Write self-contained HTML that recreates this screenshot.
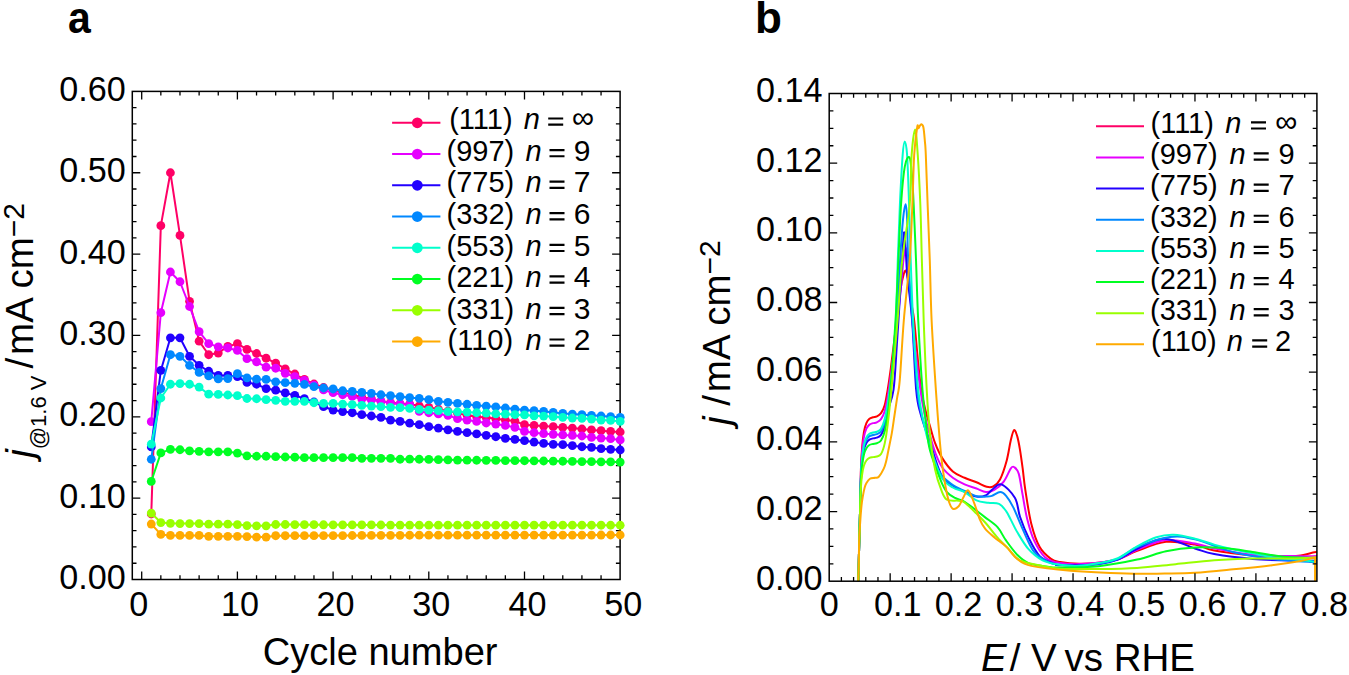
<!DOCTYPE html><html><head><meta charset="utf-8"><style>html,body{margin:0;padding:0;background:#fff;width:1349px;height:675px;overflow:hidden;}svg{display:block}text{font-family:"Liberation Sans",sans-serif;}</style></head><body>
<svg width="1349" height="675" viewBox="0 0 1349 675">
<rect width="1349" height="675" fill="#fff"/>
<path d="M141.70,579.50v-8.00M141.70,91.40v8.00M160.84,579.50v-4.20M160.84,91.40v4.20M179.98,579.50v-4.20M179.98,91.40v4.20M199.12,579.50v-4.20M199.12,91.40v4.20M218.26,579.50v-4.20M218.26,91.40v4.20M237.40,579.50v-8.00M237.40,91.40v8.00M256.54,579.50v-4.20M256.54,91.40v4.20M275.68,579.50v-4.20M275.68,91.40v4.20M294.82,579.50v-4.20M294.82,91.40v4.20M313.96,579.50v-4.20M313.96,91.40v4.20M333.10,579.50v-8.00M333.10,91.40v8.00M352.24,579.50v-4.20M352.24,91.40v4.20M371.38,579.50v-4.20M371.38,91.40v4.20M390.52,579.50v-4.20M390.52,91.40v4.20M409.66,579.50v-4.20M409.66,91.40v4.20M428.80,579.50v-8.00M428.80,91.40v8.00M447.94,579.50v-4.20M447.94,91.40v4.20M467.08,579.50v-4.20M467.08,91.40v4.20M486.22,579.50v-4.20M486.22,91.40v4.20M505.36,579.50v-4.20M505.36,91.40v4.20M524.50,579.50v-8.00M524.50,91.40v8.00M543.64,579.50v-4.20M543.64,91.40v4.20M562.78,579.50v-4.20M562.78,91.40v4.20M581.92,579.50v-4.20M581.92,91.40v4.20M601.06,579.50v-4.20M601.06,91.40v4.20M132.30,563.23h4.20M620.10,563.23h-4.20M132.30,546.96h4.20M620.10,546.96h-4.20M132.30,530.69h4.20M620.10,530.69h-4.20M132.30,514.42h4.20M620.10,514.42h-4.20M132.30,498.15h8.00M620.10,498.15h-8.00M132.30,481.88h4.20M620.10,481.88h-4.20M132.30,465.61h4.20M620.10,465.61h-4.20M132.30,449.34h4.20M620.10,449.34h-4.20M132.30,433.07h4.20M620.10,433.07h-4.20M132.30,416.80h8.00M620.10,416.80h-8.00M132.30,400.53h4.20M620.10,400.53h-4.20M132.30,384.26h4.20M620.10,384.26h-4.20M132.30,367.99h4.20M620.10,367.99h-4.20M132.30,351.72h4.20M620.10,351.72h-4.20M132.30,335.45h8.00M620.10,335.45h-8.00M132.30,319.18h4.20M620.10,319.18h-4.20M132.30,302.91h4.20M620.10,302.91h-4.20M132.30,286.64h4.20M620.10,286.64h-4.20M132.30,270.37h4.20M620.10,270.37h-4.20M132.30,254.10h8.00M620.10,254.10h-8.00M132.30,237.83h4.20M620.10,237.83h-4.20M132.30,221.56h4.20M620.10,221.56h-4.20M132.30,205.29h4.20M620.10,205.29h-4.20M132.30,189.02h4.20M620.10,189.02h-4.20M132.30,172.75h8.00M620.10,172.75h-8.00M132.30,156.48h4.20M620.10,156.48h-4.20M132.30,140.21h4.20M620.10,140.21h-4.20M132.30,123.94h4.20M620.10,123.94h-4.20M132.30,107.67h4.20M620.10,107.67h-4.20" stroke="#000" stroke-width="1.30" fill="none"/>
<rect x="132.30" y="91.40" width="487.80" height="488.10" fill="none" stroke="#000" stroke-width="1.50"/>
<text x="138.80" y="615.50" font-size="34.2" text-anchor="middle">0</text>
<text x="239.90" y="615.50" font-size="34.2" text-anchor="middle">10</text>
<text x="335.40" y="615.50" font-size="34.2" text-anchor="middle">20</text>
<text x="431.30" y="615.50" font-size="34.2" text-anchor="middle">30</text>
<text x="527.50" y="615.50" font-size="34.2" text-anchor="middle">40</text>
<text x="623.20" y="615.50" font-size="34.2" text-anchor="middle">50</text>
<text x="125.80" y="588.90" font-size="34.2" text-anchor="end">0.00</text>
<text x="125.80" y="507.55" font-size="34.2" text-anchor="end">0.10</text>
<text x="125.80" y="426.20" font-size="34.2" text-anchor="end">0.20</text>
<text x="125.80" y="344.85" font-size="34.2" text-anchor="end">0.30</text>
<text x="125.80" y="263.50" font-size="34.2" text-anchor="end">0.40</text>
<text x="125.80" y="182.15" font-size="34.2" text-anchor="end">0.50</text>
<text x="125.80" y="100.80" font-size="34.2" text-anchor="end">0.60</text>
<text x="380.1" y="664.8" font-size="38.1" text-anchor="middle">Cycle number</text>
<text transform="translate(33,457.8) rotate(-90)" font-size="38.5"><tspan font-style="italic">j</tspan><tspan font-size="22" dy="12.5">@1.6 V</tspan><tspan dy="-12.5" dx="7">/</tspan><tspan dx="2.9">mA cm</tspan><tspan font-size="30" dy="-9.2">−2</tspan></text>
<text transform="translate(68,33) scale(0.91,1)" font-size="45" font-weight="bold">a</text>
<polyline points="151.27,514.01 160.84,225.63 170.41,172.75 179.98,235.39 189.55,301.28 199.12,341.14 208.69,354.73 218.26,353.02 227.83,346.43 237.40,343.59 246.97,349.28 256.54,353.51 266.11,358.23 275.68,363.11 285.25,368.80 294.82,374.01 304.39,379.38 313.96,384.02 323.53,387.51 333.10,389.95 342.67,392.39 352.24,394.84 361.81,397.28 371.38,398.90 380.95,401.34 390.52,402.56 400.09,403.78 409.66,404.19 419.23,405.82 428.80,407.44 438.37,409.07 447.94,411.11 457.51,413.14 467.08,415.17 476.65,416.72 486.22,417.61 495.79,418.67 505.36,420.05 514.93,421.11 524.50,424.69 534.07,425.42 543.64,426.07 553.21,426.72 562.78,427.38 572.35,428.03 581.92,429.00 591.49,429.98 601.06,430.71 610.63,431.44 620.20,432.01" fill="none" stroke="#ff0066" stroke-width="2" stroke-linejoin="round"/>
<g fill="#ff0066"><circle cx="151.27" cy="514.01" r="4.4"/><circle cx="160.84" cy="225.63" r="4.4"/><circle cx="170.41" cy="172.75" r="4.4"/><circle cx="179.98" cy="235.39" r="4.4"/><circle cx="189.55" cy="301.28" r="4.4"/><circle cx="199.12" cy="341.14" r="4.4"/><circle cx="208.69" cy="354.73" r="4.4"/><circle cx="218.26" cy="353.02" r="4.4"/><circle cx="227.83" cy="346.43" r="4.4"/><circle cx="237.40" cy="343.59" r="4.4"/><circle cx="246.97" cy="349.28" r="4.4"/><circle cx="256.54" cy="353.51" r="4.4"/><circle cx="266.11" cy="358.23" r="4.4"/><circle cx="275.68" cy="363.11" r="4.4"/><circle cx="285.25" cy="368.80" r="4.4"/><circle cx="294.82" cy="374.01" r="4.4"/><circle cx="304.39" cy="379.38" r="4.4"/><circle cx="313.96" cy="384.02" r="4.4"/><circle cx="323.53" cy="387.51" r="4.4"/><circle cx="333.10" cy="389.95" r="4.4"/><circle cx="342.67" cy="392.39" r="4.4"/><circle cx="352.24" cy="394.84" r="4.4"/><circle cx="361.81" cy="397.28" r="4.4"/><circle cx="371.38" cy="398.90" r="4.4"/><circle cx="380.95" cy="401.34" r="4.4"/><circle cx="390.52" cy="402.56" r="4.4"/><circle cx="400.09" cy="403.78" r="4.4"/><circle cx="409.66" cy="404.19" r="4.4"/><circle cx="419.23" cy="405.82" r="4.4"/><circle cx="428.80" cy="407.44" r="4.4"/><circle cx="438.37" cy="409.07" r="4.4"/><circle cx="447.94" cy="411.11" r="4.4"/><circle cx="457.51" cy="413.14" r="4.4"/><circle cx="467.08" cy="415.17" r="4.4"/><circle cx="476.65" cy="416.72" r="4.4"/><circle cx="486.22" cy="417.61" r="4.4"/><circle cx="495.79" cy="418.67" r="4.4"/><circle cx="505.36" cy="420.05" r="4.4"/><circle cx="514.93" cy="421.11" r="4.4"/><circle cx="524.50" cy="424.69" r="4.4"/><circle cx="534.07" cy="425.42" r="4.4"/><circle cx="543.64" cy="426.07" r="4.4"/><circle cx="553.21" cy="426.72" r="4.4"/><circle cx="562.78" cy="427.38" r="4.4"/><circle cx="572.35" cy="428.03" r="4.4"/><circle cx="581.92" cy="429.00" r="4.4"/><circle cx="591.49" cy="429.98" r="4.4"/><circle cx="601.06" cy="430.71" r="4.4"/><circle cx="610.63" cy="431.44" r="4.4"/><circle cx="620.20" cy="432.01" r="4.4"/></g>
<polyline points="151.27,421.68 160.84,312.67 170.41,272.00 179.98,281.76 189.55,306.49 199.12,331.71 208.69,343.59 218.26,346.84 227.83,347.98 237.40,350.42 246.97,358.72 256.54,361.81 266.11,367.18 275.68,368.23 285.25,373.36 294.82,376.69 304.39,380.44 313.96,385.07 323.53,389.95 333.10,392.72 342.67,394.75 352.24,396.46 361.81,399.07 371.38,399.96 380.95,401.34 390.52,403.13 400.09,403.95 409.66,404.68 419.23,411.43 428.80,412.73 438.37,413.95 447.94,415.34 457.51,418.67 467.08,420.05 476.65,421.44 486.22,422.98 495.79,424.04 505.36,425.42 514.93,427.38 524.50,431.44 534.07,432.66 543.64,433.64 553.21,434.29 562.78,434.94 572.35,435.43 581.92,436.00 591.49,437.38 601.06,438.03 610.63,438.68 620.20,439.98" fill="none" stroke="#e600ff" stroke-width="2" stroke-linejoin="round"/>
<g fill="#e600ff"><circle cx="151.27" cy="421.68" r="4.4"/><circle cx="160.84" cy="312.67" r="4.4"/><circle cx="170.41" cy="272.00" r="4.4"/><circle cx="179.98" cy="281.76" r="4.4"/><circle cx="189.55" cy="306.49" r="4.4"/><circle cx="199.12" cy="331.71" r="4.4"/><circle cx="208.69" cy="343.59" r="4.4"/><circle cx="218.26" cy="346.84" r="4.4"/><circle cx="227.83" cy="347.98" r="4.4"/><circle cx="237.40" cy="350.42" r="4.4"/><circle cx="246.97" cy="358.72" r="4.4"/><circle cx="256.54" cy="361.81" r="4.4"/><circle cx="266.11" cy="367.18" r="4.4"/><circle cx="275.68" cy="368.23" r="4.4"/><circle cx="285.25" cy="373.36" r="4.4"/><circle cx="294.82" cy="376.69" r="4.4"/><circle cx="304.39" cy="380.44" r="4.4"/><circle cx="313.96" cy="385.07" r="4.4"/><circle cx="323.53" cy="389.95" r="4.4"/><circle cx="333.10" cy="392.72" r="4.4"/><circle cx="342.67" cy="394.75" r="4.4"/><circle cx="352.24" cy="396.46" r="4.4"/><circle cx="361.81" cy="399.07" r="4.4"/><circle cx="371.38" cy="399.96" r="4.4"/><circle cx="380.95" cy="401.34" r="4.4"/><circle cx="390.52" cy="403.13" r="4.4"/><circle cx="400.09" cy="403.95" r="4.4"/><circle cx="409.66" cy="404.68" r="4.4"/><circle cx="419.23" cy="411.43" r="4.4"/><circle cx="428.80" cy="412.73" r="4.4"/><circle cx="438.37" cy="413.95" r="4.4"/><circle cx="447.94" cy="415.34" r="4.4"/><circle cx="457.51" cy="418.67" r="4.4"/><circle cx="467.08" cy="420.05" r="4.4"/><circle cx="476.65" cy="421.44" r="4.4"/><circle cx="486.22" cy="422.98" r="4.4"/><circle cx="495.79" cy="424.04" r="4.4"/><circle cx="505.36" cy="425.42" r="4.4"/><circle cx="514.93" cy="427.38" r="4.4"/><circle cx="524.50" cy="431.44" r="4.4"/><circle cx="534.07" cy="432.66" r="4.4"/><circle cx="543.64" cy="433.64" r="4.4"/><circle cx="553.21" cy="434.29" r="4.4"/><circle cx="562.78" cy="434.94" r="4.4"/><circle cx="572.35" cy="435.43" r="4.4"/><circle cx="581.92" cy="436.00" r="4.4"/><circle cx="591.49" cy="437.38" r="4.4"/><circle cx="601.06" cy="438.03" r="4.4"/><circle cx="610.63" cy="438.68" r="4.4"/><circle cx="620.20" cy="439.98" r="4.4"/></g>
<polyline points="151.27,446.90 160.84,370.43 170.41,337.81 179.98,337.81 189.55,356.28 199.12,365.31 208.69,371.24 218.26,375.47 227.83,375.47 237.40,376.53 246.97,382.39 256.54,384.26 266.11,388.57 275.68,390.20 285.25,392.96 294.82,395.40 304.39,398.66 313.96,401.99 323.53,406.71 333.10,410.05 342.67,411.59 352.24,412.73 361.81,414.68 371.38,415.99 380.95,417.37 390.52,420.05 400.09,421.36 409.66,423.15 419.23,424.69 428.80,426.72 438.37,428.03 447.94,429.82 457.51,431.44 467.08,432.66 476.65,433.96 486.22,435.35 495.79,436.73 505.36,438.44 514.93,439.42 524.50,440.72 534.07,442.02 543.64,443.40 553.21,444.30 562.78,444.70 572.35,445.68 581.92,446.74 591.49,447.39 601.06,448.69 610.63,449.34 620.20,449.99" fill="none" stroke="#2200ff" stroke-width="2" stroke-linejoin="round"/>
<g fill="#2200ff"><circle cx="151.27" cy="446.90" r="4.4"/><circle cx="160.84" cy="370.43" r="4.4"/><circle cx="170.41" cy="337.81" r="4.4"/><circle cx="179.98" cy="337.81" r="4.4"/><circle cx="189.55" cy="356.28" r="4.4"/><circle cx="199.12" cy="365.31" r="4.4"/><circle cx="208.69" cy="371.24" r="4.4"/><circle cx="218.26" cy="375.47" r="4.4"/><circle cx="227.83" cy="375.47" r="4.4"/><circle cx="237.40" cy="376.53" r="4.4"/><circle cx="246.97" cy="382.39" r="4.4"/><circle cx="256.54" cy="384.26" r="4.4"/><circle cx="266.11" cy="388.57" r="4.4"/><circle cx="275.68" cy="390.20" r="4.4"/><circle cx="285.25" cy="392.96" r="4.4"/><circle cx="294.82" cy="395.40" r="4.4"/><circle cx="304.39" cy="398.66" r="4.4"/><circle cx="313.96" cy="401.99" r="4.4"/><circle cx="323.53" cy="406.71" r="4.4"/><circle cx="333.10" cy="410.05" r="4.4"/><circle cx="342.67" cy="411.59" r="4.4"/><circle cx="352.24" cy="412.73" r="4.4"/><circle cx="361.81" cy="414.68" r="4.4"/><circle cx="371.38" cy="415.99" r="4.4"/><circle cx="380.95" cy="417.37" r="4.4"/><circle cx="390.52" cy="420.05" r="4.4"/><circle cx="400.09" cy="421.36" r="4.4"/><circle cx="409.66" cy="423.15" r="4.4"/><circle cx="419.23" cy="424.69" r="4.4"/><circle cx="428.80" cy="426.72" r="4.4"/><circle cx="438.37" cy="428.03" r="4.4"/><circle cx="447.94" cy="429.82" r="4.4"/><circle cx="457.51" cy="431.44" r="4.4"/><circle cx="467.08" cy="432.66" r="4.4"/><circle cx="476.65" cy="433.96" r="4.4"/><circle cx="486.22" cy="435.35" r="4.4"/><circle cx="495.79" cy="436.73" r="4.4"/><circle cx="505.36" cy="438.44" r="4.4"/><circle cx="514.93" cy="439.42" r="4.4"/><circle cx="524.50" cy="440.72" r="4.4"/><circle cx="534.07" cy="442.02" r="4.4"/><circle cx="543.64" cy="443.40" r="4.4"/><circle cx="553.21" cy="444.30" r="4.4"/><circle cx="562.78" cy="444.70" r="4.4"/><circle cx="572.35" cy="445.68" r="4.4"/><circle cx="581.92" cy="446.74" r="4.4"/><circle cx="591.49" cy="447.39" r="4.4"/><circle cx="601.06" cy="448.69" r="4.4"/><circle cx="610.63" cy="449.34" r="4.4"/><circle cx="620.20" cy="449.99" r="4.4"/></g>
<polyline points="151.27,459.26 160.84,388.57 170.41,354.73 179.98,356.28 189.55,365.31 199.12,372.38 208.69,375.96 218.26,378.97 227.83,378.57 237.40,373.60 246.97,377.91 256.54,379.13 266.11,379.38 275.68,381.82 285.25,382.71 294.82,383.37 304.39,384.42 313.96,386.70 323.53,388.00 333.10,388.98 342.67,390.77 352.24,391.42 361.81,392.39 371.38,393.37 380.95,394.75 390.52,395.65 400.09,396.71 409.66,397.60 419.23,398.41 428.80,399.64 438.37,401.34 447.94,402.32 457.51,403.38 467.08,404.27 476.65,405.41 486.22,406.06 495.79,406.96 505.36,408.01 514.93,409.07 524.50,410.05 534.07,410.70 543.64,411.35 553.21,412.41 562.78,413.38 572.35,414.03 581.92,414.68 591.49,415.34 601.06,415.99 610.63,416.72 620.20,417.37" fill="none" stroke="#0088ff" stroke-width="2" stroke-linejoin="round"/>
<g fill="#0088ff"><circle cx="151.27" cy="459.26" r="4.4"/><circle cx="160.84" cy="388.57" r="4.4"/><circle cx="170.41" cy="354.73" r="4.4"/><circle cx="179.98" cy="356.28" r="4.4"/><circle cx="189.55" cy="365.31" r="4.4"/><circle cx="199.12" cy="372.38" r="4.4"/><circle cx="208.69" cy="375.96" r="4.4"/><circle cx="218.26" cy="378.97" r="4.4"/><circle cx="227.83" cy="378.57" r="4.4"/><circle cx="237.40" cy="373.60" r="4.4"/><circle cx="246.97" cy="377.91" r="4.4"/><circle cx="256.54" cy="379.13" r="4.4"/><circle cx="266.11" cy="379.38" r="4.4"/><circle cx="275.68" cy="381.82" r="4.4"/><circle cx="285.25" cy="382.71" r="4.4"/><circle cx="294.82" cy="383.37" r="4.4"/><circle cx="304.39" cy="384.42" r="4.4"/><circle cx="313.96" cy="386.70" r="4.4"/><circle cx="323.53" cy="388.00" r="4.4"/><circle cx="333.10" cy="388.98" r="4.4"/><circle cx="342.67" cy="390.77" r="4.4"/><circle cx="352.24" cy="391.42" r="4.4"/><circle cx="361.81" cy="392.39" r="4.4"/><circle cx="371.38" cy="393.37" r="4.4"/><circle cx="380.95" cy="394.75" r="4.4"/><circle cx="390.52" cy="395.65" r="4.4"/><circle cx="400.09" cy="396.71" r="4.4"/><circle cx="409.66" cy="397.60" r="4.4"/><circle cx="419.23" cy="398.41" r="4.4"/><circle cx="428.80" cy="399.64" r="4.4"/><circle cx="438.37" cy="401.34" r="4.4"/><circle cx="447.94" cy="402.32" r="4.4"/><circle cx="457.51" cy="403.38" r="4.4"/><circle cx="467.08" cy="404.27" r="4.4"/><circle cx="476.65" cy="405.41" r="4.4"/><circle cx="486.22" cy="406.06" r="4.4"/><circle cx="495.79" cy="406.96" r="4.4"/><circle cx="505.36" cy="408.01" r="4.4"/><circle cx="514.93" cy="409.07" r="4.4"/><circle cx="524.50" cy="410.05" r="4.4"/><circle cx="534.07" cy="410.70" r="4.4"/><circle cx="543.64" cy="411.35" r="4.4"/><circle cx="553.21" cy="412.41" r="4.4"/><circle cx="562.78" cy="413.38" r="4.4"/><circle cx="572.35" cy="414.03" r="4.4"/><circle cx="581.92" cy="414.68" r="4.4"/><circle cx="591.49" cy="415.34" r="4.4"/><circle cx="601.06" cy="415.99" r="4.4"/><circle cx="610.63" cy="416.72" r="4.4"/><circle cx="620.20" cy="417.37" r="4.4"/></g>
<polyline points="151.27,444.21 160.84,398.01 170.41,384.26 179.98,383.61 189.55,384.26 199.12,387.11 208.69,394.18 218.26,394.43 227.83,395.00 237.40,395.65 246.97,398.50 256.54,398.74 266.11,399.72 275.68,400.29 285.25,401.34 294.82,401.34 304.39,401.34 313.96,402.73 323.53,403.38 333.10,403.38 342.67,404.03 352.24,404.68 361.81,405.41 371.38,406.06 380.95,406.71 390.52,407.36 400.09,407.69 409.66,408.42 419.23,409.40 428.80,410.05 438.37,410.70 447.94,411.59 457.51,411.84 467.08,412.08 476.65,412.73 486.22,413.06 495.79,413.79 505.36,414.03 514.93,414.68 524.50,414.93 534.07,415.82 543.64,416.07 553.21,416.72 562.78,417.37 572.35,418.02 581.92,418.35 591.49,419.08 601.06,420.05 610.63,420.38 620.20,421.44" fill="none" stroke="#00ffcc" stroke-width="2" stroke-linejoin="round"/>
<g fill="#00ffcc"><circle cx="151.27" cy="444.21" r="4.4"/><circle cx="160.84" cy="398.01" r="4.4"/><circle cx="170.41" cy="384.26" r="4.4"/><circle cx="179.98" cy="383.61" r="4.4"/><circle cx="189.55" cy="384.26" r="4.4"/><circle cx="199.12" cy="387.11" r="4.4"/><circle cx="208.69" cy="394.18" r="4.4"/><circle cx="218.26" cy="394.43" r="4.4"/><circle cx="227.83" cy="395.00" r="4.4"/><circle cx="237.40" cy="395.65" r="4.4"/><circle cx="246.97" cy="398.50" r="4.4"/><circle cx="256.54" cy="398.74" r="4.4"/><circle cx="266.11" cy="399.72" r="4.4"/><circle cx="275.68" cy="400.29" r="4.4"/><circle cx="285.25" cy="401.34" r="4.4"/><circle cx="294.82" cy="401.34" r="4.4"/><circle cx="304.39" cy="401.34" r="4.4"/><circle cx="313.96" cy="402.73" r="4.4"/><circle cx="323.53" cy="403.38" r="4.4"/><circle cx="333.10" cy="403.38" r="4.4"/><circle cx="342.67" cy="404.03" r="4.4"/><circle cx="352.24" cy="404.68" r="4.4"/><circle cx="361.81" cy="405.41" r="4.4"/><circle cx="371.38" cy="406.06" r="4.4"/><circle cx="380.95" cy="406.71" r="4.4"/><circle cx="390.52" cy="407.36" r="4.4"/><circle cx="400.09" cy="407.69" r="4.4"/><circle cx="409.66" cy="408.42" r="4.4"/><circle cx="419.23" cy="409.40" r="4.4"/><circle cx="428.80" cy="410.05" r="4.4"/><circle cx="438.37" cy="410.70" r="4.4"/><circle cx="447.94" cy="411.59" r="4.4"/><circle cx="457.51" cy="411.84" r="4.4"/><circle cx="467.08" cy="412.08" r="4.4"/><circle cx="476.65" cy="412.73" r="4.4"/><circle cx="486.22" cy="413.06" r="4.4"/><circle cx="495.79" cy="413.79" r="4.4"/><circle cx="505.36" cy="414.03" r="4.4"/><circle cx="514.93" cy="414.68" r="4.4"/><circle cx="524.50" cy="414.93" r="4.4"/><circle cx="534.07" cy="415.82" r="4.4"/><circle cx="543.64" cy="416.07" r="4.4"/><circle cx="553.21" cy="416.72" r="4.4"/><circle cx="562.78" cy="417.37" r="4.4"/><circle cx="572.35" cy="418.02" r="4.4"/><circle cx="581.92" cy="418.35" r="4.4"/><circle cx="591.49" cy="419.08" r="4.4"/><circle cx="601.06" cy="420.05" r="4.4"/><circle cx="610.63" cy="420.38" r="4.4"/><circle cx="620.20" cy="421.44" r="4.4"/></g>
<polyline points="151.27,481.47 160.84,452.92 170.41,449.34 179.98,449.75 189.55,450.97 199.12,451.37 208.69,451.86 218.26,451.86 227.83,451.86 237.40,453.08 246.97,455.85 256.54,456.25 266.11,456.25 275.68,456.66 285.25,456.99 294.82,457.23 304.39,457.72 313.96,457.72 323.53,457.72 333.10,457.56 342.67,457.72 352.24,457.72 361.81,458.29 371.38,458.29 380.95,458.29 390.52,458.29 400.09,459.26 409.66,459.10 419.23,459.26 428.80,459.43 438.37,459.64 447.94,459.86 457.51,460.08 467.08,460.17 476.65,460.26 486.22,460.36 495.79,460.45 505.36,460.54 514.93,460.64 524.50,460.73 534.07,460.86 543.64,460.99 553.21,461.12 562.78,461.25 572.35,461.38 581.92,461.53 591.49,461.67 601.06,461.82 610.63,461.97 620.20,462.11" fill="none" stroke="#00ff22" stroke-width="2" stroke-linejoin="round"/>
<g fill="#00ff22"><circle cx="151.27" cy="481.47" r="4.4"/><circle cx="160.84" cy="452.92" r="4.4"/><circle cx="170.41" cy="449.34" r="4.4"/><circle cx="179.98" cy="449.75" r="4.4"/><circle cx="189.55" cy="450.97" r="4.4"/><circle cx="199.12" cy="451.37" r="4.4"/><circle cx="208.69" cy="451.86" r="4.4"/><circle cx="218.26" cy="451.86" r="4.4"/><circle cx="227.83" cy="451.86" r="4.4"/><circle cx="237.40" cy="453.08" r="4.4"/><circle cx="246.97" cy="455.85" r="4.4"/><circle cx="256.54" cy="456.25" r="4.4"/><circle cx="266.11" cy="456.25" r="4.4"/><circle cx="275.68" cy="456.66" r="4.4"/><circle cx="285.25" cy="456.99" r="4.4"/><circle cx="294.82" cy="457.23" r="4.4"/><circle cx="304.39" cy="457.72" r="4.4"/><circle cx="313.96" cy="457.72" r="4.4"/><circle cx="323.53" cy="457.72" r="4.4"/><circle cx="333.10" cy="457.56" r="4.4"/><circle cx="342.67" cy="457.72" r="4.4"/><circle cx="352.24" cy="457.72" r="4.4"/><circle cx="361.81" cy="458.29" r="4.4"/><circle cx="371.38" cy="458.29" r="4.4"/><circle cx="380.95" cy="458.29" r="4.4"/><circle cx="390.52" cy="458.29" r="4.4"/><circle cx="400.09" cy="459.26" r="4.4"/><circle cx="409.66" cy="459.10" r="4.4"/><circle cx="419.23" cy="459.26" r="4.4"/><circle cx="428.80" cy="459.43" r="4.4"/><circle cx="438.37" cy="459.64" r="4.4"/><circle cx="447.94" cy="459.86" r="4.4"/><circle cx="457.51" cy="460.08" r="4.4"/><circle cx="467.08" cy="460.17" r="4.4"/><circle cx="476.65" cy="460.26" r="4.4"/><circle cx="486.22" cy="460.36" r="4.4"/><circle cx="495.79" cy="460.45" r="4.4"/><circle cx="505.36" cy="460.54" r="4.4"/><circle cx="514.93" cy="460.64" r="4.4"/><circle cx="524.50" cy="460.73" r="4.4"/><circle cx="534.07" cy="460.86" r="4.4"/><circle cx="543.64" cy="460.99" r="4.4"/><circle cx="553.21" cy="461.12" r="4.4"/><circle cx="562.78" cy="461.25" r="4.4"/><circle cx="572.35" cy="461.38" r="4.4"/><circle cx="581.92" cy="461.53" r="4.4"/><circle cx="591.49" cy="461.67" r="4.4"/><circle cx="601.06" cy="461.82" r="4.4"/><circle cx="610.63" cy="461.97" r="4.4"/><circle cx="620.20" cy="462.11" r="4.4"/></g>
<polyline points="151.27,513.04 160.84,522.55 170.41,523.37 179.98,523.53 189.55,523.53 199.12,523.53 208.69,524.18 218.26,524.18 227.83,524.18 237.40,524.59 246.97,525.56 256.54,525.81 266.11,525.81 275.68,524.51 285.25,524.51 294.82,524.57 304.39,524.64 313.96,524.70 323.53,524.77 333.10,524.83 342.67,524.87 352.24,524.90 361.81,524.93 371.38,524.96 380.95,525.00 390.52,525.03 400.09,525.06 409.66,525.09 419.23,525.13 428.80,525.16 438.37,525.16 447.94,525.17 457.51,525.17 467.08,525.17 476.65,525.18 486.22,525.18 495.79,525.19 505.36,525.19 514.93,525.19 524.50,525.20 534.07,525.20 543.64,525.21 553.21,525.21 562.78,525.22 572.35,525.22 581.92,525.22 591.49,525.23 601.06,525.23 610.63,525.24 620.20,525.24" fill="none" stroke="#99ff00" stroke-width="2" stroke-linejoin="round"/>
<g fill="#99ff00"><circle cx="151.27" cy="513.04" r="4.4"/><circle cx="160.84" cy="522.55" r="4.4"/><circle cx="170.41" cy="523.37" r="4.4"/><circle cx="179.98" cy="523.53" r="4.4"/><circle cx="189.55" cy="523.53" r="4.4"/><circle cx="199.12" cy="523.53" r="4.4"/><circle cx="208.69" cy="524.18" r="4.4"/><circle cx="218.26" cy="524.18" r="4.4"/><circle cx="227.83" cy="524.18" r="4.4"/><circle cx="237.40" cy="524.59" r="4.4"/><circle cx="246.97" cy="525.56" r="4.4"/><circle cx="256.54" cy="525.81" r="4.4"/><circle cx="266.11" cy="525.81" r="4.4"/><circle cx="275.68" cy="524.51" r="4.4"/><circle cx="285.25" cy="524.51" r="4.4"/><circle cx="294.82" cy="524.57" r="4.4"/><circle cx="304.39" cy="524.64" r="4.4"/><circle cx="313.96" cy="524.70" r="4.4"/><circle cx="323.53" cy="524.77" r="4.4"/><circle cx="333.10" cy="524.83" r="4.4"/><circle cx="342.67" cy="524.87" r="4.4"/><circle cx="352.24" cy="524.90" r="4.4"/><circle cx="361.81" cy="524.93" r="4.4"/><circle cx="371.38" cy="524.96" r="4.4"/><circle cx="380.95" cy="525.00" r="4.4"/><circle cx="390.52" cy="525.03" r="4.4"/><circle cx="400.09" cy="525.06" r="4.4"/><circle cx="409.66" cy="525.09" r="4.4"/><circle cx="419.23" cy="525.13" r="4.4"/><circle cx="428.80" cy="525.16" r="4.4"/><circle cx="438.37" cy="525.16" r="4.4"/><circle cx="447.94" cy="525.17" r="4.4"/><circle cx="457.51" cy="525.17" r="4.4"/><circle cx="467.08" cy="525.17" r="4.4"/><circle cx="476.65" cy="525.18" r="4.4"/><circle cx="486.22" cy="525.18" r="4.4"/><circle cx="495.79" cy="525.19" r="4.4"/><circle cx="505.36" cy="525.19" r="4.4"/><circle cx="514.93" cy="525.19" r="4.4"/><circle cx="524.50" cy="525.20" r="4.4"/><circle cx="534.07" cy="525.20" r="4.4"/><circle cx="543.64" cy="525.21" r="4.4"/><circle cx="553.21" cy="525.21" r="4.4"/><circle cx="562.78" cy="525.22" r="4.4"/><circle cx="572.35" cy="525.22" r="4.4"/><circle cx="581.92" cy="525.22" r="4.4"/><circle cx="591.49" cy="525.23" r="4.4"/><circle cx="601.06" cy="525.23" r="4.4"/><circle cx="610.63" cy="525.24" r="4.4"/><circle cx="620.20" cy="525.24" r="4.4"/></g>
<polyline points="151.27,524.02 160.84,534.43 170.41,535.41 179.98,535.41 189.55,535.41 199.12,535.41 208.69,536.30 218.26,536.30 227.83,536.30 237.40,536.30 246.97,536.55 256.54,537.04 266.11,537.04 275.68,535.73 285.25,535.73 294.82,535.70 304.39,535.67 313.96,535.64 323.53,535.60 333.10,535.57 342.67,535.53 352.24,535.49 361.81,535.45 371.38,535.41 380.95,535.37 390.52,535.33 400.09,535.29 409.66,535.25 419.23,535.20 428.80,535.16 438.37,535.16 447.94,535.15 457.51,535.14 467.08,535.13 476.65,535.12 486.22,535.12 495.79,535.11 505.36,535.10 514.93,535.09 524.50,535.08 534.07,535.07 543.64,535.07 553.21,535.06 562.78,535.05 572.35,535.04 581.92,535.03 591.49,535.03 601.06,535.02 610.63,535.01 620.20,535.00" fill="none" stroke="#ffaa00" stroke-width="2" stroke-linejoin="round"/>
<g fill="#ffaa00"><circle cx="151.27" cy="524.02" r="4.4"/><circle cx="160.84" cy="534.43" r="4.4"/><circle cx="170.41" cy="535.41" r="4.4"/><circle cx="179.98" cy="535.41" r="4.4"/><circle cx="189.55" cy="535.41" r="4.4"/><circle cx="199.12" cy="535.41" r="4.4"/><circle cx="208.69" cy="536.30" r="4.4"/><circle cx="218.26" cy="536.30" r="4.4"/><circle cx="227.83" cy="536.30" r="4.4"/><circle cx="237.40" cy="536.30" r="4.4"/><circle cx="246.97" cy="536.55" r="4.4"/><circle cx="256.54" cy="537.04" r="4.4"/><circle cx="266.11" cy="537.04" r="4.4"/><circle cx="275.68" cy="535.73" r="4.4"/><circle cx="285.25" cy="535.73" r="4.4"/><circle cx="294.82" cy="535.70" r="4.4"/><circle cx="304.39" cy="535.67" r="4.4"/><circle cx="313.96" cy="535.64" r="4.4"/><circle cx="323.53" cy="535.60" r="4.4"/><circle cx="333.10" cy="535.57" r="4.4"/><circle cx="342.67" cy="535.53" r="4.4"/><circle cx="352.24" cy="535.49" r="4.4"/><circle cx="361.81" cy="535.45" r="4.4"/><circle cx="371.38" cy="535.41" r="4.4"/><circle cx="380.95" cy="535.37" r="4.4"/><circle cx="390.52" cy="535.33" r="4.4"/><circle cx="400.09" cy="535.29" r="4.4"/><circle cx="409.66" cy="535.25" r="4.4"/><circle cx="419.23" cy="535.20" r="4.4"/><circle cx="428.80" cy="535.16" r="4.4"/><circle cx="438.37" cy="535.16" r="4.4"/><circle cx="447.94" cy="535.15" r="4.4"/><circle cx="457.51" cy="535.14" r="4.4"/><circle cx="467.08" cy="535.13" r="4.4"/><circle cx="476.65" cy="535.12" r="4.4"/><circle cx="486.22" cy="535.12" r="4.4"/><circle cx="495.79" cy="535.11" r="4.4"/><circle cx="505.36" cy="535.10" r="4.4"/><circle cx="514.93" cy="535.09" r="4.4"/><circle cx="524.50" cy="535.08" r="4.4"/><circle cx="534.07" cy="535.07" r="4.4"/><circle cx="543.64" cy="535.07" r="4.4"/><circle cx="553.21" cy="535.06" r="4.4"/><circle cx="562.78" cy="535.05" r="4.4"/><circle cx="572.35" cy="535.04" r="4.4"/><circle cx="581.92" cy="535.03" r="4.4"/><circle cx="591.49" cy="535.03" r="4.4"/><circle cx="601.06" cy="535.02" r="4.4"/><circle cx="610.63" cy="535.01" r="4.4"/><circle cx="620.20" cy="535.00" r="4.4"/></g>
<line x1="392.1" y1="122.80" x2="440.4" y2="122.80" stroke="#ff0066" stroke-width="2"/>
<circle cx="417.3" cy="122.80" r="5.4" fill="#ff0066"/>
<text x="449.20" y="129.30" font-size="29">(111)</text>
<text x="523.70" y="129.30" font-size="29" font-style="italic">n</text>
<path d="M548.20,118.50h15M548.20,124.70h15" stroke="#000" stroke-width="2.2"/>
<text x="572.10" y="128.30" font-size="31">∞</text>
<line x1="392.1" y1="154.05" x2="440.4" y2="154.05" stroke="#e600ff" stroke-width="2"/>
<circle cx="417.3" cy="154.05" r="5.4" fill="#e600ff"/>
<text x="446.50" y="160.87" font-size="29">(997)</text>
<text x="525.50" y="160.87" font-size="29" font-style="italic">n</text>
<path d="M549.50,150.07h15M549.50,156.27h15" stroke="#000" stroke-width="2.2"/>
<text x="573.80" y="160.87" font-size="30">9</text>
<line x1="392.1" y1="185.30" x2="440.4" y2="185.30" stroke="#2200ff" stroke-width="2"/>
<circle cx="417.3" cy="185.30" r="5.4" fill="#2200ff"/>
<text x="446.50" y="192.44" font-size="29">(775)</text>
<text x="525.50" y="192.44" font-size="29" font-style="italic">n</text>
<path d="M549.50,181.64h15M549.50,187.84h15" stroke="#000" stroke-width="2.2"/>
<text x="573.80" y="192.44" font-size="30">7</text>
<line x1="392.1" y1="216.55" x2="440.4" y2="216.55" stroke="#0088ff" stroke-width="2"/>
<circle cx="417.3" cy="216.55" r="5.4" fill="#0088ff"/>
<text x="446.50" y="224.01" font-size="29">(332)</text>
<text x="525.50" y="224.01" font-size="29" font-style="italic">n</text>
<path d="M549.50,213.21h15M549.50,219.41h15" stroke="#000" stroke-width="2.2"/>
<text x="573.80" y="224.01" font-size="30">6</text>
<line x1="392.1" y1="247.80" x2="440.4" y2="247.80" stroke="#00ffcc" stroke-width="2"/>
<circle cx="417.3" cy="247.80" r="5.4" fill="#00ffcc"/>
<text x="446.50" y="255.58" font-size="29">(553)</text>
<text x="525.50" y="255.58" font-size="29" font-style="italic">n</text>
<path d="M549.50,244.78h15M549.50,250.98h15" stroke="#000" stroke-width="2.2"/>
<text x="573.80" y="255.58" font-size="30">5</text>
<line x1="392.1" y1="279.05" x2="440.4" y2="279.05" stroke="#00ff22" stroke-width="2"/>
<circle cx="417.3" cy="279.05" r="5.4" fill="#00ff22"/>
<text x="446.50" y="287.15" font-size="29">(221)</text>
<text x="525.50" y="287.15" font-size="29" font-style="italic">n</text>
<path d="M549.50,276.35h15M549.50,282.55h15" stroke="#000" stroke-width="2.2"/>
<text x="573.80" y="287.15" font-size="30">4</text>
<line x1="392.1" y1="310.30" x2="440.4" y2="310.30" stroke="#99ff00" stroke-width="2"/>
<circle cx="417.3" cy="310.30" r="5.4" fill="#99ff00"/>
<text x="446.50" y="318.72" font-size="29">(331)</text>
<text x="525.50" y="318.72" font-size="29" font-style="italic">n</text>
<path d="M549.50,307.92h15M549.50,314.12h15" stroke="#000" stroke-width="2.2"/>
<text x="573.80" y="318.72" font-size="30">3</text>
<line x1="392.1" y1="341.55" x2="440.4" y2="341.55" stroke="#ffaa00" stroke-width="2"/>
<circle cx="417.3" cy="341.55" r="5.4" fill="#ffaa00"/>
<text x="447.50" y="350.29" font-size="29">(110)</text>
<text x="525.50" y="350.29" font-size="29" font-style="italic">n</text>
<path d="M549.50,339.49h15M549.50,345.69h15" stroke="#000" stroke-width="2.2"/>
<text x="573.80" y="350.29" font-size="30">2</text>
<text x="829.20" y="615.50" font-size="34.2" text-anchor="middle">0</text>
<text x="897.66" y="615.50" font-size="34.2" text-anchor="middle">0.1</text>
<text x="958.62" y="615.50" font-size="34.2" text-anchor="middle">0.2</text>
<text x="1019.58" y="615.50" font-size="34.2" text-anchor="middle">0.3</text>
<text x="1080.54" y="615.50" font-size="34.2" text-anchor="middle">0.4</text>
<text x="1141.50" y="615.50" font-size="34.2" text-anchor="middle">0.5</text>
<text x="1202.46" y="615.50" font-size="34.2" text-anchor="middle">0.6</text>
<text x="1263.42" y="615.50" font-size="34.2" text-anchor="middle">0.7</text>
<text x="1324.38" y="615.50" font-size="34.2" text-anchor="middle">0.8</text>
<text x="822.60" y="589.60" font-size="34.2" text-anchor="end">0.00</text>
<text x="822.60" y="519.93" font-size="34.2" text-anchor="end">0.02</text>
<text x="822.60" y="450.26" font-size="34.2" text-anchor="end">0.04</text>
<text x="822.60" y="380.58" font-size="34.2" text-anchor="end">0.06</text>
<text x="822.60" y="310.91" font-size="34.2" text-anchor="end">0.08</text>
<text x="822.60" y="241.24" font-size="34.2" text-anchor="end">0.10</text>
<text x="822.60" y="171.57" font-size="34.2" text-anchor="end">0.12</text>
<text x="822.60" y="101.90" font-size="34.2" text-anchor="end">0.14</text>
<text x="981" y="671" font-size="38.5"><tspan font-style="italic">E</tspan><tspan dx="3">/ V</tspan><tspan dx="-3"> vs RHE</tspan></text>
<text transform="translate(729.8,425.1) rotate(-90)" font-size="38.5"><tspan font-style="italic">j</tspan> /<tspan dx="3">mA cm</tspan><tspan font-size="30" dy="-9.4">−2</tspan></text>
<text x="755" y="32.6" font-size="44" font-weight="bold">b</text>
<clipPath id="cb"><rect x="829.20" y="93.50" width="487.70" height="487.70"/></clipPath>
<g clip-path="url(#cb)" fill="none" stroke-width="2" stroke-linejoin="round">
<path d="M858.34,581.20 C858.48,575.10 858.92,555.94 859.19,544.62 C859.47,533.30 859.70,525.76 859.98,513.27 C860.27,500.78 860.54,480.67 860.90,469.69 C861.25,458.71 861.61,453.71 862.12,447.42 C862.63,441.12 863.24,435.96 863.95,431.92 C864.66,427.89 865.47,425.38 866.39,423.20 C867.30,421.03 868.32,419.84 869.43,418.85 C870.55,417.85 871.87,417.65 873.09,417.25 C874.31,416.85 875.43,417.11 876.75,416.43 C878.07,415.74 879.70,414.99 881.02,413.13 C882.34,411.27 883.56,409.20 884.67,405.28 C885.79,401.36 886.71,395.70 887.72,389.60 C888.74,383.51 889.75,376.25 890.77,368.70 C891.79,361.15 892.80,352.73 893.82,344.32 C894.83,335.90 895.75,327.36 896.87,318.19 C897.98,309.01 899.41,296.53 900.52,289.27 C901.64,282.02 902.68,277.72 903.57,274.64 C904.47,271.57 905.13,269.94 905.89,270.81 C906.65,271.68 907.31,274.88 908.14,279.87 C908.98,284.86 909.88,294.04 910.89,300.77 C911.89,307.51 913.01,310.41 914.18,320.28 C915.35,330.15 916.72,348.38 917.90,359.99 C919.08,371.60 919.98,381.53 921.25,389.95 C922.52,398.37 924.05,404.47 925.52,410.50 C926.98,416.54 928.44,420.78 930.03,426.18 C931.61,431.58 933.01,437.62 935.03,442.90 C937.04,448.18 939.13,453.12 942.10,457.88 C945.06,462.64 949.08,468.16 952.83,471.47 C956.58,474.78 960.65,475.94 964.59,477.74 C968.53,479.54 972.80,480.76 976.48,482.27 C980.16,483.78 983.86,486.10 986.66,486.79 C989.46,487.49 991.08,487.67 993.30,486.45 C995.53,485.23 997.78,483.78 1000.01,479.48 C1002.23,475.18 1004.88,467.11 1006.65,460.67 C1008.43,454.22 1009.45,445.92 1010.68,440.81 C1011.91,435.70 1012.92,430.71 1014.03,430.01 C1015.14,429.32 1016.33,433.32 1017.32,436.63 C1018.32,439.94 1019.11,444.53 1020.00,449.87 C1020.90,455.21 1021.80,462.00 1022.69,468.68 C1023.57,475.36 1023.88,480.76 1025.31,489.93 C1026.74,499.10 1028.88,514.20 1031.28,523.72 C1033.68,533.24 1036.41,541.20 1039.69,547.06 C1042.98,552.92 1047.59,556.41 1050.97,558.90 C1054.36,561.40 1055.30,561.23 1059.99,562.04 C1064.69,562.85 1072.71,563.67 1079.14,563.78 C1085.56,563.90 1092.07,563.49 1098.52,562.74 C1104.97,561.98 1111.41,561.23 1117.85,559.25 C1124.28,557.28 1129.08,553.80 1137.11,550.89 C1145.14,547.99 1156.36,542.88 1166.00,541.84 C1175.65,540.79 1186.92,543.17 1194.96,544.62 C1203.00,546.07 1204.59,548.74 1214.22,550.54 C1223.86,552.34 1241.50,554.38 1252.75,555.42 C1264.00,556.47 1274.07,556.76 1281.71,556.81 C1289.35,556.87 1293.15,556.52 1298.59,555.77 C1304.04,555.01 1311.33,552.92 1314.38,552.29 C1317.43,551.65 1316.46,552.00 1316.88,551.94" stroke="#ff0000"/>
<path d="M858.34,581.20 C858.48,575.10 858.92,555.94 859.19,544.62 C859.47,533.30 859.70,525.31 859.98,513.27 C860.27,501.23 860.54,482.66 860.90,472.35 C861.25,462.05 861.61,457.35 862.12,451.44 C862.63,445.53 863.24,440.68 863.95,436.90 C864.66,433.11 865.47,430.76 866.39,428.71 C867.30,426.67 868.32,425.55 869.43,424.62 C870.55,423.69 871.87,423.52 873.09,423.14 C874.31,422.76 875.43,423.01 876.75,422.35 C878.07,421.69 879.70,421.03 881.02,419.17 C882.34,417.31 883.56,414.97 884.67,411.20 C885.79,407.43 886.71,402.49 887.72,396.57 C888.74,390.65 889.75,383.22 890.77,375.67 C891.79,368.12 892.80,359.70 893.82,351.28 C894.83,342.86 895.75,335.03 896.87,325.16 C897.98,315.29 899.43,302.92 900.52,292.06 C901.62,281.20 902.57,267.39 903.45,260.01 C904.33,252.64 905.20,247.82 905.83,247.82 C906.46,247.82 906.49,252.06 907.23,260.01 C907.97,267.97 909.16,282.66 910.28,295.54 C911.39,308.43 912.25,321.61 913.93,337.35 C915.62,353.08 918.57,376.89 920.40,389.95 C922.22,403.01 923.30,408.12 924.91,415.73 C926.51,423.33 928.34,429.55 930.03,435.59 C931.71,441.62 933.01,446.67 935.03,451.96 C937.04,457.24 939.13,462.99 942.10,467.29 C945.06,471.58 949.08,474.89 952.83,477.74 C956.58,480.58 960.65,482.56 964.59,484.36 C968.53,486.16 972.91,487.26 976.48,488.54 C980.05,489.81 983.02,491.79 985.99,492.02 C988.96,492.25 991.32,491.67 994.28,489.93 C997.24,488.19 1000.96,485.17 1003.73,481.57 C1006.49,477.97 1009.08,470.71 1010.86,468.33 C1012.64,465.95 1013.08,466.36 1014.40,467.29 C1015.72,468.22 1017.40,469.26 1018.79,473.91 C1020.17,478.55 1021.32,487.78 1022.69,495.16 C1024.06,502.53 1025.12,510.60 1027.02,518.15 C1028.92,525.69 1031.04,533.88 1034.09,540.44 C1037.13,547.00 1040.99,553.74 1045.30,557.51 C1049.62,561.29 1053.34,562.04 1059.99,563.09 C1066.65,564.13 1075.59,564.42 1085.23,563.78 C1094.87,563.14 1109.20,561.58 1117.85,559.25 C1126.49,556.93 1129.08,553.04 1137.11,549.85 C1145.14,546.65 1156.36,541.14 1166.00,540.09 C1175.65,539.05 1186.92,542.18 1194.96,543.58 C1203.00,544.97 1204.59,546.60 1214.22,548.45 C1223.86,550.31 1239.91,553.45 1252.75,554.72 C1265.59,556.00 1280.59,555.89 1291.28,556.12 C1301.97,556.35 1312.61,556.12 1316.88,556.12" stroke="#e600ff"/>
<path d="M858.34,581.20 C858.48,575.10 858.92,555.94 859.19,544.62 C859.47,533.30 859.70,524.16 859.98,513.27 C860.27,502.37 860.54,487.82 860.90,479.25 C861.25,470.69 861.61,466.78 862.12,461.87 C862.63,456.95 863.24,452.92 863.95,449.77 C864.66,446.62 865.47,444.67 866.39,442.97 C867.30,441.27 868.32,440.33 869.43,439.57 C870.55,438.80 871.87,438.71 873.09,438.39 C874.31,438.08 875.43,438.27 876.75,437.68 C878.07,437.08 879.70,436.72 881.02,434.81 C882.34,432.89 883.56,430.23 884.67,426.18 C885.79,422.13 886.25,416.54 887.72,410.50 C889.19,404.47 891.99,400.98 893.51,389.95 C895.04,378.92 895.75,360.63 896.87,344.32 C897.98,328.00 899.34,306.11 900.22,292.06 C901.09,278.01 901.48,269.94 902.11,260.01 C902.74,250.08 903.40,234.12 904.00,232.49 C904.60,230.87 905.17,243.23 905.70,250.26 C906.24,257.28 906.16,262.97 907.23,274.64 C908.30,286.31 910.61,301.06 912.11,320.28 C913.60,339.50 914.77,374.33 916.19,389.95 C917.61,405.57 918.33,405.22 920.64,413.99 C922.95,422.75 926.59,432.39 930.03,442.55 C933.46,452.71 937.44,467.75 941.24,474.95 C945.04,482.15 948.94,482.96 952.83,485.75 C956.72,488.54 960.65,489.87 964.59,491.67 C968.53,493.47 972.86,495.97 976.48,496.55 C980.10,497.13 983.72,496.26 986.29,495.16 C988.86,494.05 989.38,491.73 991.90,489.93 C994.42,488.13 997.56,483.02 1001.41,484.36 C1005.26,485.69 1011.91,492.54 1015.01,497.94 C1018.10,503.34 1017.75,510.13 1020.00,516.75 C1022.26,523.37 1025.26,531.09 1028.54,537.66 C1031.82,544.22 1035.33,551.76 1039.69,556.12 C1044.06,560.47 1051.37,562.27 1054.75,563.78 C1058.14,565.29 1052.70,565.12 1059.99,565.18 C1067.29,565.23 1088.88,565.06 1098.52,564.13 C1108.16,563.20 1111.41,562.16 1117.85,559.60 C1124.28,557.05 1129.40,552.29 1137.11,548.80 C1144.82,545.32 1154.47,538.76 1164.11,538.70 C1173.76,538.64 1186.61,545.90 1194.96,548.45 C1203.31,551.01 1204.59,552.29 1214.22,554.03 C1223.86,555.77 1239.91,557.80 1252.75,558.90 C1265.59,560.01 1280.59,560.36 1291.28,560.65 C1301.97,560.94 1312.61,560.65 1316.88,560.65" stroke="#2200ff"/>
<path d="M858.34,581.20 C858.48,575.10 858.92,555.94 859.19,544.62 C859.47,533.30 859.70,524.43 859.98,513.27 C860.27,502.11 860.54,486.65 860.90,477.68 C861.25,468.72 861.61,464.64 862.12,459.50 C862.63,454.36 863.24,450.14 863.95,446.84 C864.66,443.55 865.47,441.51 866.39,439.73 C867.30,437.95 868.32,436.97 869.43,436.17 C870.55,435.37 871.87,435.26 873.09,434.93 C874.31,434.60 875.43,434.80 876.75,434.19 C878.07,433.58 879.70,433.17 881.02,431.25 C882.34,429.34 883.56,426.73 884.67,422.70 C885.79,418.66 886.71,413.12 887.72,407.02 C888.74,400.92 889.75,394.25 890.77,386.12 C891.79,377.99 892.80,368.99 893.82,358.25 C894.83,347.51 895.82,338.04 896.87,321.67 C897.91,305.30 899.06,277.14 900.10,260.01 C901.13,242.88 902.15,228.20 903.08,218.91 C904.02,209.62 905.03,204.27 905.70,204.27 C906.38,204.27 906.69,209.62 907.11,218.91 C907.52,228.20 907.32,243.12 908.20,260.01 C909.09,276.91 910.90,298.62 912.41,320.28 C913.92,341.93 915.71,374.04 917.29,389.95 C918.86,405.86 919.74,406.79 921.86,415.73 C923.98,424.67 927.83,435.76 930.03,443.60 C932.22,451.44 933.16,457.53 935.03,462.76 C936.90,467.98 938.28,471.23 941.24,474.95 C944.21,478.67 948.94,482.38 952.83,485.05 C956.72,487.72 960.65,489.12 964.59,490.97 C968.53,492.83 972.86,495.27 976.48,496.20 C980.10,497.13 983.72,496.61 986.29,496.55 C988.86,496.49 989.59,496.61 991.90,495.85 C994.22,495.10 997.83,492.02 1000.19,492.02 C1002.56,492.02 1003.92,493.30 1006.11,495.85 C1008.29,498.41 1010.52,501.77 1013.30,507.35 C1016.08,512.92 1019.34,521.86 1022.81,529.29 C1026.27,536.73 1029.78,546.48 1034.09,551.94 C1038.39,557.40 1044.34,559.89 1048.66,562.04 C1052.97,564.19 1054.88,564.19 1059.99,564.83 C1065.11,565.47 1072.90,566.05 1079.32,565.87 C1085.74,565.70 1092.10,564.94 1098.52,563.78 C1104.94,562.62 1111.41,561.69 1117.85,558.90 C1124.28,556.12 1128.43,550.72 1137.11,547.06 C1145.79,543.40 1160.26,538.24 1169.91,536.96 C1179.55,535.68 1184.36,536.84 1194.96,539.40 C1205.56,541.95 1220.64,549.03 1233.49,552.29 C1246.33,555.54 1258.11,557.22 1272.01,558.90 C1285.91,560.59 1309.40,561.81 1316.88,562.39" stroke="#0088ff"/>
<path d="M858.34,581.20 C858.48,575.10 858.92,555.94 859.19,544.62 C859.47,533.30 859.70,524.61 859.98,513.27 C860.27,501.93 860.54,485.83 860.90,476.59 C861.25,467.35 861.61,463.14 862.12,457.84 C862.63,452.54 863.24,448.19 863.95,444.80 C864.66,441.40 865.47,439.29 866.39,437.46 C867.30,435.63 868.32,434.62 869.43,433.79 C870.55,432.96 871.87,432.84 873.09,432.50 C874.31,432.16 875.43,432.38 876.75,431.75 C878.07,431.13 879.70,430.85 881.02,428.76 C882.34,426.67 883.56,423.42 884.67,419.21 C885.79,415.01 886.71,409.92 887.72,403.54 C888.74,397.15 889.73,389.60 890.77,380.89 C891.81,372.18 893.08,361.38 893.94,351.28 C894.80,341.18 895.31,335.49 895.95,320.28 C896.59,305.07 897.12,279.35 897.78,260.01 C898.44,240.68 899.10,221.75 899.91,204.27 C900.73,186.80 901.85,165.61 902.66,155.16 C903.46,144.70 903.99,141.57 904.73,141.57 C905.47,141.57 906.39,144.70 907.11,155.16 C907.83,165.61 908.46,186.80 909.06,204.27 C909.66,221.75 910.02,240.68 910.70,260.01 C911.38,279.35 911.89,298.62 913.14,320.28 C914.39,341.93 916.44,372.88 918.20,389.95 C919.96,407.02 921.72,413.17 923.69,422.70 C925.66,432.22 927.10,438.08 930.03,447.08 C932.95,456.08 937.44,469.96 941.24,476.69 C945.04,483.43 948.94,484.94 952.83,487.49 C956.72,490.05 960.65,489.87 964.59,492.02 C968.53,494.17 972.53,498.58 976.48,500.38 C980.43,502.18 984.55,502.24 988.31,502.82 C992.06,503.40 996.07,502.47 999.03,503.86 C1002.00,505.26 1004.13,508.51 1006.11,511.18 C1008.08,513.85 1009.01,516.41 1010.86,519.89 C1012.71,523.37 1014.25,527.20 1017.20,532.08 C1020.15,536.96 1024.32,544.45 1028.54,549.15 C1032.76,553.85 1037.26,557.69 1042.50,560.30 C1047.74,562.91 1053.86,563.90 1059.99,564.83 C1066.13,565.76 1072.90,566.16 1079.32,565.87 C1085.74,565.58 1092.10,564.36 1098.52,563.09 C1104.94,561.81 1111.41,561.00 1117.85,558.21 C1124.28,555.42 1130.69,549.85 1137.11,546.36 C1143.53,542.88 1150.27,539.22 1156.37,537.31 C1162.48,535.39 1167.31,534.64 1173.75,534.87 C1180.18,535.10 1188.21,537.07 1194.96,538.70 C1201.71,540.33 1207.80,542.82 1214.22,544.62 C1220.64,546.42 1227.07,548.05 1233.49,549.50 C1239.91,550.95 1246.33,552.05 1252.75,553.33 C1259.17,554.61 1265.59,556.23 1272.01,557.16 C1278.43,558.09 1283.80,558.09 1291.28,558.90 C1298.75,559.72 1312.61,561.52 1316.88,562.04" stroke="#00ffcc"/>
<path d="M858.34,581.20 C858.48,575.10 858.92,555.94 859.19,544.62 C859.47,533.30 859.70,523.75 859.98,513.27 C860.27,502.79 860.54,489.70 860.90,481.76 C861.25,473.82 861.61,470.21 862.12,465.66 C862.63,461.10 863.24,457.37 863.95,454.45 C864.66,451.54 865.47,449.73 866.39,448.15 C867.30,446.58 868.32,445.70 869.43,445.00 C870.55,444.30 871.87,444.23 873.09,443.94 C874.31,443.65 875.43,443.82 876.75,443.25 C878.07,442.67 879.70,442.46 881.02,440.49 C882.34,438.52 883.56,435.82 884.67,431.41 C885.79,426.99 886.77,420.90 887.72,413.99 C888.68,407.08 889.10,405.57 890.40,389.95 C891.70,374.33 894.19,341.93 895.52,320.28 C896.86,298.62 897.48,279.23 898.39,260.01 C899.30,240.79 899.94,220.53 901.01,204.97 C902.08,189.41 903.39,174.61 904.79,166.65 C906.19,158.70 908.25,156.08 909.42,157.25 C910.59,158.41 911.09,165.66 911.80,173.62 C912.51,181.57 912.99,190.57 913.69,204.97 C914.39,219.37 915.26,240.79 916.01,260.01 C916.76,279.23 917.12,298.62 918.20,320.28 C919.28,341.93 921.15,372.59 922.47,389.95 C923.79,407.31 924.87,414.34 926.13,424.44 C927.39,434.54 927.51,441.04 930.03,450.57 C932.55,460.09 938.43,474.66 941.24,481.57 C944.06,488.48 944.61,489.29 946.91,492.02 C949.22,494.75 952.14,496.32 955.08,497.94 C958.03,499.57 961.42,499.97 964.59,501.77 C967.76,503.57 970.73,506.19 974.10,508.74 C977.48,511.30 980.93,514.02 984.83,517.10 C988.73,520.18 993.99,523.31 997.51,527.20 C1001.04,531.09 1002.70,535.86 1005.98,540.44 C1009.27,545.03 1013.44,550.95 1017.20,554.72 C1020.96,558.50 1024.32,561.23 1028.54,563.09 C1032.76,564.94 1037.26,565.12 1042.50,565.87 C1047.74,566.63 1050.66,567.56 1059.99,567.61 C1069.33,567.67 1085.67,567.56 1098.52,566.22 C1111.37,564.89 1125.86,562.10 1137.11,559.60 C1148.36,557.11 1156.36,553.27 1166.00,551.24 C1175.65,549.21 1185.33,547.93 1194.96,547.41 C1204.59,546.89 1214.16,547.35 1223.79,548.11 C1233.43,548.86 1243.10,550.54 1252.75,551.94 C1262.40,553.33 1271.02,555.42 1281.71,556.47 C1292.39,557.51 1311.02,557.92 1316.88,558.21" stroke="#00ff22"/>
<path d="M858.34,581.20 C858.48,575.10 858.92,555.94 859.19,544.62 C859.47,533.30 859.70,522.75 859.98,513.27 C860.27,503.79 860.54,494.15 860.90,487.72 C861.25,481.28 861.61,478.35 862.12,474.66 C862.63,470.97 863.24,467.94 863.95,465.57 C864.66,463.21 865.47,461.74 866.39,460.46 C867.30,459.18 868.32,458.47 869.43,457.91 C870.55,457.35 871.87,457.35 873.09,457.11 C874.31,456.87 875.43,457.01 876.75,456.49 C878.07,455.97 879.70,456.14 881.02,453.99 C882.34,451.84 883.56,448.52 884.67,443.60 C885.79,438.67 886.60,433.38 887.72,424.44 C888.84,415.50 889.73,407.31 891.38,389.95 C893.03,372.59 895.79,341.93 897.60,320.28 C899.41,298.62 900.22,279.23 902.23,260.01 C904.24,240.79 908.10,222.45 909.67,204.97 C911.23,187.50 910.71,167.75 911.62,155.16 C912.52,142.56 914.07,129.38 915.09,129.38 C916.12,129.38 916.90,142.56 917.77,155.16 C918.65,167.75 919.65,187.50 920.34,204.97 C921.02,222.45 921.30,240.79 921.86,260.01 C922.42,279.23 922.88,298.62 923.69,320.28 C924.50,341.93 925.68,370.85 926.74,389.95 C927.79,409.05 928.63,421.59 930.03,434.89 C931.43,448.18 933.28,460.55 935.15,469.72 C937.02,478.90 939.28,484.94 941.24,489.93 C943.21,494.92 944.01,497.88 946.91,499.68 C949.82,501.48 955.73,500.26 958.68,500.73 C961.63,501.19 961.63,500.32 964.59,502.47 C967.56,504.62 972.86,510.08 976.48,513.62 C980.10,517.16 982.79,519.71 986.29,523.72 C989.80,527.73 993.76,533.42 997.51,537.66 C1001.26,541.89 1005.04,545.38 1008.79,549.15 C1012.54,552.92 1014.39,557.51 1020.00,560.30 C1025.62,563.09 1035.83,564.48 1042.50,565.87 C1049.16,567.27 1050.66,568.14 1059.99,568.66 C1069.33,569.18 1085.67,569.12 1098.52,569.01 C1111.37,568.89 1124.26,568.78 1137.11,567.96 C1149.96,567.15 1162.78,565.41 1175.64,564.13 C1188.49,562.85 1201.37,561.23 1214.22,560.30 C1227.08,559.37 1239.91,558.85 1252.75,558.56 C1265.59,558.27 1280.59,558.79 1291.28,558.56 C1301.97,558.32 1312.61,557.40 1316.88,557.16" stroke="#99ff00"/>
<path d="M858.34,581.20 C858.48,574.52 858.90,550.78 859.19,541.14 C859.49,531.50 859.72,529.29 860.11,523.37 C860.49,517.45 861.06,510.08 861.51,505.61 C861.96,501.14 862.27,499.51 862.79,496.55 C863.31,493.59 864.03,490.05 864.62,487.84 C865.21,485.63 865.44,484.82 866.32,483.31 C867.21,481.80 868.49,479.71 869.92,478.78 C871.35,477.85 873.44,478.09 874.92,477.74 C876.40,477.39 877.35,478.20 878.82,476.69 C880.29,475.18 882.53,471.29 883.76,468.68 C884.99,466.07 885.46,463.92 886.20,461.02 C886.94,458.11 887.27,455.91 888.21,451.26 C889.14,446.62 890.77,439.07 891.81,433.15 C892.84,427.22 893.54,421.59 894.43,415.73 C895.31,409.86 896.22,403.94 897.11,397.96 C898.00,391.98 898.67,392.80 899.79,379.85 C900.91,366.90 902.17,340.25 903.82,320.28 C905.46,300.31 908.24,279.23 909.67,260.01 C911.09,240.79 911.60,222.45 912.35,204.97 C913.10,187.50 913.37,168.16 914.18,155.16 C914.99,142.15 916.53,131.41 917.23,126.94 C917.93,122.47 918.02,128.39 918.38,128.33 C918.75,128.27 918.93,127.29 919.42,126.59 C919.91,125.89 920.65,124.04 921.31,124.15 C921.97,124.27 922.78,124.38 923.38,127.29 C923.98,130.19 924.50,136.92 924.91,141.57 C925.31,146.21 925.36,144.59 925.82,155.16 C926.28,165.72 926.99,187.50 927.65,204.97 C928.31,222.45 929.12,240.79 929.78,260.01 C930.44,279.23 930.60,298.62 931.61,320.28 C932.63,341.93 934.53,369.98 935.88,389.95 C937.23,409.92 938.63,427.40 939.72,440.11 C940.81,452.83 941.41,458.35 942.40,466.24 C943.40,474.14 944.60,481.57 945.69,487.49 C946.79,493.41 947.80,498.23 948.99,501.77 C950.18,505.32 951.21,507.99 952.83,508.74 C954.44,509.50 956.93,508.16 958.68,506.30 C960.43,504.44 961.73,500.26 963.31,497.59 C964.90,494.92 966.39,489.41 968.19,490.28 C969.99,491.15 972.13,497.88 974.10,502.82 C976.07,507.75 978.16,515.53 980.02,519.89 C981.87,524.24 982.81,525.98 985.26,528.95 C987.71,531.91 991.25,534.75 994.71,537.66 C998.16,540.56 1002.23,542.82 1005.98,546.36 C1009.73,549.91 1012.98,555.65 1017.20,558.90 C1021.42,562.16 1022.38,563.90 1031.28,565.87 C1040.18,567.85 1054.67,569.47 1070.60,570.75 C1086.53,572.03 1111.22,573.07 1126.87,573.54 C1142.51,574.00 1153.13,573.65 1164.48,573.54 C1175.83,573.42 1183.48,573.54 1194.96,572.84 C1206.44,572.14 1220.52,570.63 1233.36,569.36 C1246.21,568.08 1260.76,566.57 1272.01,565.18 C1283.27,563.78 1294.65,562.04 1300.91,561.00 C1307.17,559.95 1307.21,559.49 1309.56,558.90 C1311.92,558.32 1314.14,557.74 1315.05,557.51 L1315.05,581.20" stroke="#ffaa00"/>
</g>
<path d="M841.39,581.20v-4.20M841.39,93.50v4.20M853.58,581.20v-4.20M853.58,93.50v4.20M865.78,581.20v-4.20M865.78,93.50v4.20M877.97,581.20v-4.20M877.97,93.50v4.20M890.16,581.20v-8.00M890.16,93.50v8.00M902.35,581.20v-4.20M902.35,93.50v4.20M914.54,581.20v-4.20M914.54,93.50v4.20M926.74,581.20v-4.20M926.74,93.50v4.20M938.93,581.20v-4.20M938.93,93.50v4.20M951.12,581.20v-8.00M951.12,93.50v8.00M963.31,581.20v-4.20M963.31,93.50v4.20M975.50,581.20v-4.20M975.50,93.50v4.20M987.70,581.20v-4.20M987.70,93.50v4.20M999.89,581.20v-4.20M999.89,93.50v4.20M1012.08,581.20v-8.00M1012.08,93.50v8.00M1024.27,581.20v-4.20M1024.27,93.50v4.20M1036.46,581.20v-4.20M1036.46,93.50v4.20M1048.66,581.20v-4.20M1048.66,93.50v4.20M1060.85,581.20v-4.20M1060.85,93.50v4.20M1073.04,581.20v-8.00M1073.04,93.50v8.00M1085.23,581.20v-4.20M1085.23,93.50v4.20M1097.42,581.20v-4.20M1097.42,93.50v4.20M1109.62,581.20v-4.20M1109.62,93.50v4.20M1121.81,581.20v-4.20M1121.81,93.50v4.20M1134.00,581.20v-8.00M1134.00,93.50v8.00M1146.19,581.20v-4.20M1146.19,93.50v4.20M1158.38,581.20v-4.20M1158.38,93.50v4.20M1170.58,581.20v-4.20M1170.58,93.50v4.20M1182.77,581.20v-4.20M1182.77,93.50v4.20M1194.96,581.20v-8.00M1194.96,93.50v8.00M1207.15,581.20v-4.20M1207.15,93.50v4.20M1219.34,581.20v-4.20M1219.34,93.50v4.20M1231.54,581.20v-4.20M1231.54,93.50v4.20M1243.73,581.20v-4.20M1243.73,93.50v4.20M1255.92,581.20v-8.00M1255.92,93.50v8.00M1268.11,581.20v-4.20M1268.11,93.50v4.20M1280.30,581.20v-4.20M1280.30,93.50v4.20M1292.50,581.20v-4.20M1292.50,93.50v4.20M1304.69,581.20v-4.20M1304.69,93.50v4.20M829.20,563.78h4.20M1316.90,563.78h-4.20M829.20,546.36h4.20M1316.90,546.36h-4.20M829.20,528.95h4.20M1316.90,528.95h-4.20M829.20,511.53h8.00M1316.90,511.53h-8.00M829.20,494.11h4.20M1316.90,494.11h-4.20M829.20,476.69h4.20M1316.90,476.69h-4.20M829.20,459.27h4.20M1316.90,459.27h-4.20M829.20,441.86h8.00M1316.90,441.86h-8.00M829.20,424.44h4.20M1316.90,424.44h-4.20M829.20,407.02h4.20M1316.90,407.02h-4.20M829.20,389.60h4.20M1316.90,389.60h-4.20M829.20,372.18h8.00M1316.90,372.18h-8.00M829.20,354.77h4.20M1316.90,354.77h-4.20M829.20,337.35h4.20M1316.90,337.35h-4.20M829.20,319.93h4.20M1316.90,319.93h-4.20M829.20,302.51h8.00M1316.90,302.51h-8.00M829.20,285.09h4.20M1316.90,285.09h-4.20M829.20,267.68h4.20M1316.90,267.68h-4.20M829.20,250.26h4.20M1316.90,250.26h-4.20M829.20,232.84h8.00M1316.90,232.84h-8.00M829.20,215.42h4.20M1316.90,215.42h-4.20M829.20,198.00h4.20M1316.90,198.00h-4.20M829.20,180.59h4.20M1316.90,180.59h-4.20M829.20,163.17h8.00M1316.90,163.17h-8.00M829.20,145.75h4.20M1316.90,145.75h-4.20M829.20,128.33h4.20M1316.90,128.33h-4.20M829.20,110.91h4.20M1316.90,110.91h-4.20" stroke="#000" stroke-width="1.30" fill="none"/>
<rect x="829.20" y="93.50" width="487.70" height="487.70" fill="none" stroke="#000" stroke-width="1.50"/>
<line x1="1096" y1="126.30" x2="1144" y2="126.30" stroke="#ff0066" stroke-width="2"/>
<text x="1150.50" y="133.10" font-size="29">(111)</text>
<text x="1225.30" y="133.10" font-size="29" font-style="italic">n</text>
<path d="M1251.00,122.30h15M1251.00,128.50h15" stroke="#000" stroke-width="2.2"/>
<text x="1275.20" y="132.10" font-size="31">∞</text>
<line x1="1096" y1="157.45" x2="1144" y2="157.45" stroke="#e600ff" stroke-width="2"/>
<text x="1150.00" y="164.25" font-size="29">(997)</text>
<text x="1229.50" y="164.25" font-size="29" font-style="italic">n</text>
<path d="M1253.70,153.45h15M1253.70,159.65h15" stroke="#000" stroke-width="2.2"/>
<text x="1278.50" y="164.25" font-size="29">9</text>
<line x1="1096" y1="188.60" x2="1144" y2="188.60" stroke="#2200ff" stroke-width="2"/>
<text x="1150.00" y="195.40" font-size="29">(775)</text>
<text x="1229.50" y="195.40" font-size="29" font-style="italic">n</text>
<path d="M1253.70,184.60h15M1253.70,190.80h15" stroke="#000" stroke-width="2.2"/>
<text x="1278.50" y="195.40" font-size="29">7</text>
<line x1="1096" y1="219.75" x2="1144" y2="219.75" stroke="#0088ff" stroke-width="2"/>
<text x="1150.00" y="226.55" font-size="29">(332)</text>
<text x="1229.50" y="226.55" font-size="29" font-style="italic">n</text>
<path d="M1253.70,215.75h15M1253.70,221.95h15" stroke="#000" stroke-width="2.2"/>
<text x="1278.50" y="226.55" font-size="29">6</text>
<line x1="1096" y1="250.90" x2="1144" y2="250.90" stroke="#00ffcc" stroke-width="2"/>
<text x="1150.00" y="257.70" font-size="29">(553)</text>
<text x="1229.50" y="257.70" font-size="29" font-style="italic">n</text>
<path d="M1253.70,246.90h15M1253.70,253.10h15" stroke="#000" stroke-width="2.2"/>
<text x="1278.50" y="257.70" font-size="29">5</text>
<line x1="1096" y1="282.05" x2="1144" y2="282.05" stroke="#00ff22" stroke-width="2"/>
<text x="1150.00" y="288.85" font-size="29">(221)</text>
<text x="1229.50" y="288.85" font-size="29" font-style="italic">n</text>
<path d="M1253.70,278.05h15M1253.70,284.25h15" stroke="#000" stroke-width="2.2"/>
<text x="1278.50" y="288.85" font-size="29">4</text>
<line x1="1096" y1="313.20" x2="1144" y2="313.20" stroke="#99ff00" stroke-width="2"/>
<text x="1150.00" y="320.00" font-size="29">(331)</text>
<text x="1229.50" y="320.00" font-size="29" font-style="italic">n</text>
<path d="M1253.70,309.20h15M1253.70,315.40h15" stroke="#000" stroke-width="2.2"/>
<text x="1278.50" y="320.00" font-size="29">3</text>
<line x1="1096" y1="344.35" x2="1144" y2="344.35" stroke="#ffaa00" stroke-width="2"/>
<text x="1151.00" y="351.15" font-size="29">(110)</text>
<text x="1226.80" y="351.15" font-size="29" font-style="italic">n</text>
<path d="M1252.20,340.35h15M1252.20,346.55h15" stroke="#000" stroke-width="2.2"/>
<text x="1275.00" y="351.15" font-size="29">2</text>
</svg></body></html>
